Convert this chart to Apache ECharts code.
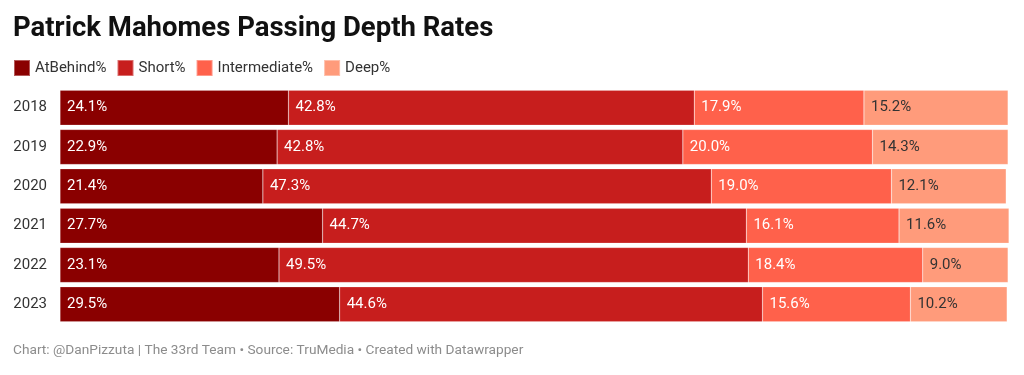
<!DOCTYPE html>
<html>
<head>
<meta charset="utf-8">
<script src="https://cdn.jsdelivr.net/npm/echarts@6/dist/echarts.min.js"></script>
<style>
  html, body { margin: 0; padding: 0; background: #fff; }
  #chart { width: 1024px; height: 375px; }
</style>
</head>
<body>
<div id="chart"></div>
<script>
const years = ['2018', '2019', '2020', '2021', '2022', '2023']
const atBehind = [24.1, 22.9, 21.4, 27.7, 23.1, 29.5]
const short = [42.8, 42.8, 47.3, 44.7, 49.5, 44.6]
const intermediate = [17.9, 20.0, 19.0, 16.1, 18.4, 15.6]
const deep = [15.2, 14.3, 12.1, 11.6, 9.0, 10.2]

const names = ['AtBehind%', 'Short%', 'Intermediate%', 'Deep%']
const colors = ['#8a0000', '#c71e1d', '#ff614b', '#ff9b7b']
const labelColors = ['#fff', '#fff', '#fff', '#333']
const values = [atBehind, short, intermediate, deep]

const font = 'Roboto, "Noto Sans", sans-serif'

const chart = echarts.init(document.getElementById('chart'))

const series = names.map((name, i) => ({
  name: name,
  type: 'bar',
  stack: 'total',
  data: values[i],
  barWidth: '89%',
  itemStyle: {
    color: colors[i],
    borderColor: 'rgba(255,255,255,0.35)',
    borderWidth: 0.5
  },
  label: {
    show: true,
    position: 'insideLeft',
    distance: 7,
    color: labelColors[i],
    fontFamily: font,
    fontSize: 15,
    formatter: p => p.value.toFixed(1) + '%'
  }
}))

chart.setOption({
  animation: false,
  title: [
    {
      text: 'Patrick Mahomes Passing Depth Rates',
      left: 8,
      top: 10,
      textStyle: { fontFamily: font, fontSize: 27.5, fontWeight: 'bold', color: '#111' }
    },
    {
      text: 'Chart: @DanPizzuta | The 33rd Team • Source: TruMedia • Created with Datawrapper',
      left: 8,
      top: 339,
      textStyle: { fontFamily: font, fontSize: 13.7, fontWeight: 'normal', color: '#8c8c8c' }
    }
  ],
  legend: {
    data: names,
    left: 8,
    top: 54,
    itemWidth: 16,
    itemHeight: 16,
    itemGap: 10,
    icon: 'rect',
    textStyle: { fontFamily: font, fontSize: 15, color: '#333' }
  },
  grid: {
    left: 60,
    right: 15,
    top: 88,
    bottom: 51,
    containLabel: false
  },
  xAxis: {
    type: 'value',
    min: 0,
    max: 100.1,
    show: false
  },
  yAxis: {
    type: 'category',
    data: years,
    inverse: true,
    axisLine: { show: false },
    axisTick: { show: false },
    splitLine: { show: false },
    axisLabel: {
      fontFamily: font,
      fontSize: 15,
      color: '#333',
      margin: 13
    }
  },
  series: series
})
</script>
</body>
</html>
